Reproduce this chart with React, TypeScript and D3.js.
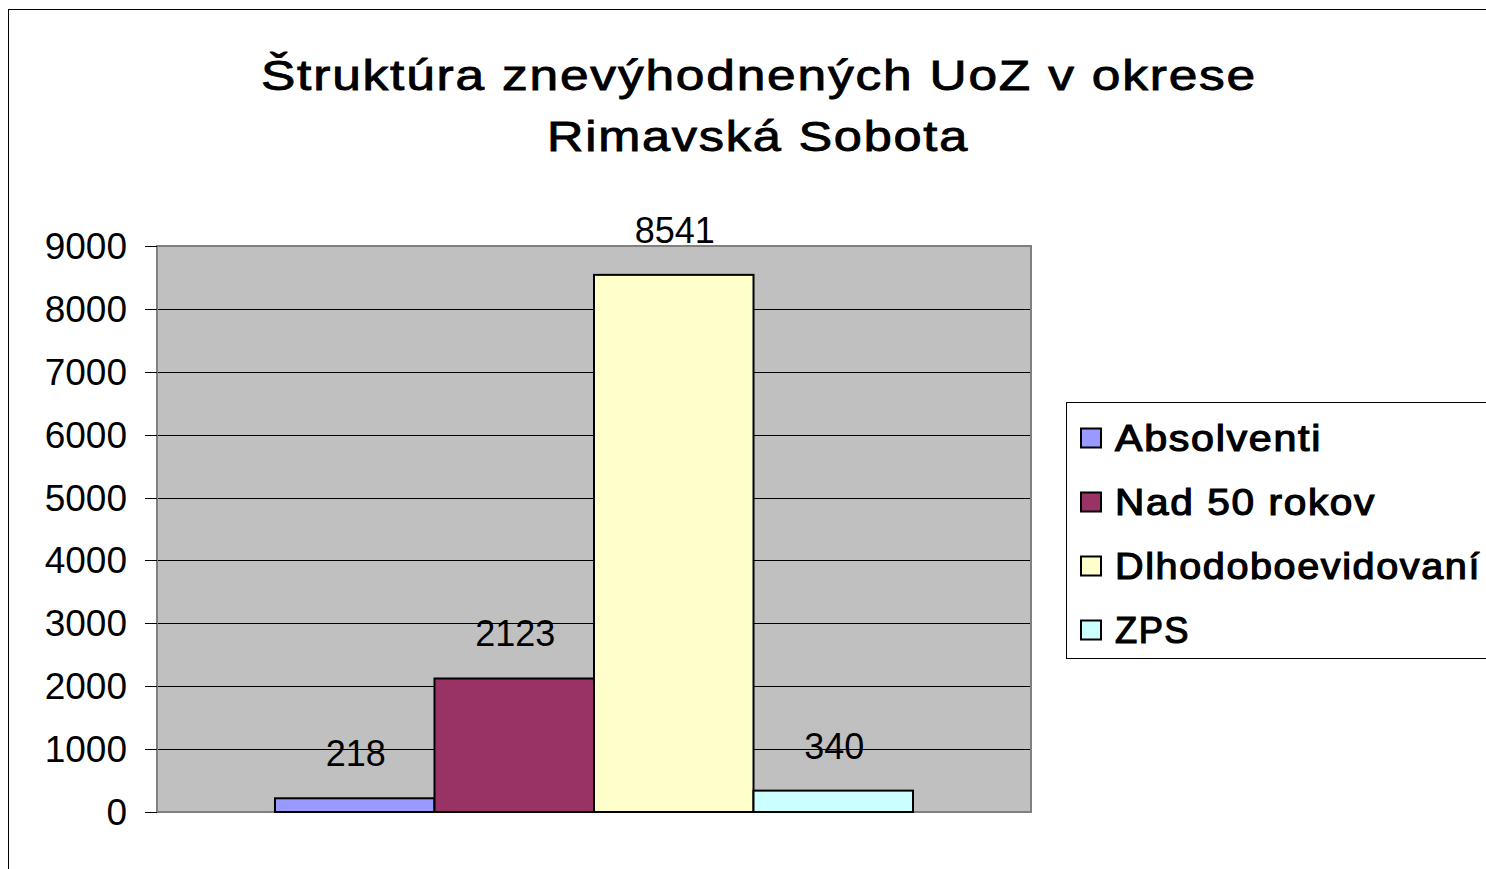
import React from "react";
import * as d3 from "d3";

const titleLines = ["Štruktúra znevýhodnených UoZ v okrese", "Rimavská Sobota"];
const categories = ["Absolventi", "Nad 50 rokov", "Dlhodoboevidovaní", "ZPS"];
const values = [218, 2123, 8541, 340];
const colors = ["#9999FF", "#993366", "#FFFFCC", "#CCFFFF"];
const yTicks = [0, 1000, 2000, 3000, 4000, 5000, 6000, 7000, 8000, 9000];

const W = 1486;
const H = 869;
const plot = { left: 157, top: 246, right: 1031, bottom: 812 };
const FONT = "'Liberation Sans', Arial, sans-serif";

export default function App() {
  const y = d3.scaleLinear().domain([0, 9000]).range([plot.bottom, plot.top]);
  const plotW = plot.right - plot.left;
  const groupW = plotW * 0.73;
  const x = d3
    .scaleBand<string>()
    .domain(categories)
    .range([plot.left + (plotW - groupW) / 2, plot.left + (plotW + groupW) / 2])
    .padding(0);

  const legendX = 1066.5;
  const legendY = 402.5;
  const legendRowH = 64;
  const legendTextLen = [207, 261, 366, 75];

  return (
    <svg
      width={W}
      height={H}
      style={{ position: "fixed", left: 0, top: 0, background: "#fff", display: "block" }}
    >
      {/* outer chart border (extends past right/bottom) */}
      <rect x={8.5} y={9.5} width={W + 20} height={H + 20} fill="#fff" stroke="#000" strokeWidth={1} />

      {/* title */}
      <g fontFamily={FONT} fontSize={43} fill="#000" stroke="#000" strokeWidth={0.9} textAnchor="middle" letterSpacing={1.5}>
        <text x={759} y={90} textLength={996} lengthAdjust="spacingAndGlyphs">{titleLines[0]}</text>
        <text x={758} y={151} textLength={422} lengthAdjust="spacingAndGlyphs">{titleLines[1]}</text>
      </g>

      {/* plot background */}
      <rect x={plot.left} y={plot.top} width={plotW} height={plot.bottom - plot.top} fill="#C0C0C0" />

      {/* gridlines */}
      {yTicks.slice(1, -1).map((t) => (
        <line key={t} x1={plot.left} x2={plot.right} y1={Math.round(y(t)) + 0.5} y2={Math.round(y(t)) + 0.5} stroke="#000" strokeWidth={1} />
      ))}

      {/* plot border */}
      <rect x={plot.left} y={plot.top} width={plotW} height={plot.bottom - plot.top} fill="none" stroke="#808080" strokeWidth={2} />

      {/* y ticks and labels */}
      {yTicks.map((t) => (
        <g key={t}>
          <line x1={145} x2={plot.left} y1={Math.round(y(t)) + 0.5} y2={Math.round(y(t)) + 0.5} stroke="#000" strokeWidth={1} />
          <text x={127} y={y(t)} dy="0.35em" textAnchor="end" fontFamily={FONT} fontSize={37} fill="#000">
            {t}
          </text>
        </g>
      ))}

      {/* bars */}
      {categories.map((c, i) => (
        <rect
          key={c}
          x={x(c)}
          y={y(values[i])}
          width={x.bandwidth()}
          height={plot.bottom - y(values[i])}
          fill={colors[i]}
          stroke="#000"
          strokeWidth={2}
        />
      ))}

      {/* value labels */}
      {categories.map((c, i) => (
        <text
          key={c}
          x={(x(c) as number) + x.bandwidth() / 2 + 1}
          y={y(values[i]) - 32}
          textAnchor="middle"
          fontFamily={FONT}
          fontSize={36}
          fill="#000"
        >
          {values[i]}
        </text>
      ))}

      {/* legend */}
      <rect x={legendX} y={legendY} width={500} height={256} fill="#fff" stroke="#000" strokeWidth={1} />
      {categories.map((c, i) => {
        const cy = legendY + 35 + i * legendRowH;
        return (
          <g key={c}>
            <rect x={1081} y={cy - 9} width={20} height={19} fill={colors[i]} stroke="#000" strokeWidth={2} />
            <text
              x={1115}
              y={cy + 13}
              fontFamily={FONT}
              fontSize={37}
              fill="#000"
              stroke="#000"
              strokeWidth={1.2}
              letterSpacing={1.5}
              textLength={legendTextLen[i]}
              lengthAdjust="spacingAndGlyphs"
            >
              {c}
            </text>
          </g>
        );
      })}
    </svg>
  );
}
